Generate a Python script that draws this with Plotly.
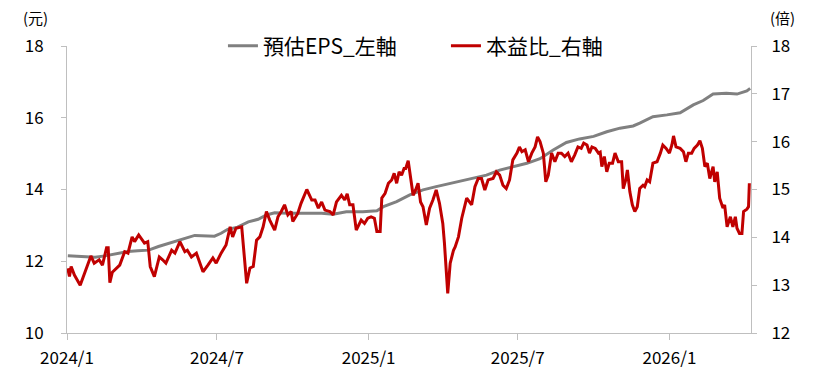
import pandas as pd
import plotly.graph_objects as go

# ---- data ----
start_date = "2024-01-01"

# 本益比 (right axis): days since 2024-01-01 and value
pe_day = [1, 3, 5, 9, 16, 21, 29, 33, 39, 43, 48, 50, 52, 55, 64, 70, 74, 79, 82, 87,
          94, 98, 101, 106, 112, 116, 120, 127, 131, 137, 143, 146, 151, 157, 165, 171, 177, 181, 187, 193,
          198, 201, 205, 212, 216, 218, 222, 226, 230, 234, 238, 242, 246, 252, 256, 260, 264, 268, 272, 274,
          280, 284, 291, 297, 301, 305, 309, 313, 319, 323, 327, 333, 337, 340, 343, 347, 351, 357, 361, 365,
          369, 373, 376, 380, 382, 386, 390, 394, 397, 400, 403, 406, 409, 411, 414, 417, 420, 423, 426, 429,
          432, 436, 440, 444, 448, 452, 456, 458, 461, 462, 465, 469, 471, 475, 479, 485, 491, 495, 499, 503,
          507, 511, 517, 521, 525, 529, 533, 537, 541, 546, 549, 552, 556, 560, 564, 568, 571, 574, 578, 581,
          584, 588, 592, 596, 600, 604, 608, 612, 616, 620, 624, 627, 631, 634, 637, 641, 645, 647, 649, 652,
          655, 658, 662, 665, 669, 673, 675, 678, 680, 683, 686, 689, 692, 695, 699, 701, 704, 707, 711, 716,
          720, 723, 727, 731, 734, 736, 739, 744, 748, 751, 754, 758, 761, 765, 768, 771, 774, 777, 780, 784,
          786, 789, 792, 796, 798, 801, 805, 808, 811, 813, 816, 819, 821, 825, 827, 828]
pe_val = [13.35, 13.18, 13.39, 13.21, 13.00, 13.25, 13.61, 13.46, 13.53, 13.42, 13.78, 13.78, 13.05, 13.27, 13.42, 13.70, 13.67, 14.01, 13.91, 14.05,
          13.88, 13.91, 13.39, 13.18, 13.59, 13.53, 13.46, 13.73, 13.67, 13.91, 13.70, 13.73, 13.59, 13.67, 13.28, 13.42, 13.57, 13.46, 13.67, 13.84,
          14.22, 14.01, 14.19, 14.22, 13.53, 13.04, 13.36, 13.39, 13.94, 14.01, 14.22, 14.54, 14.36, 14.15, 14.43, 14.54, 14.68, 14.47, 14.54, 14.33,
          14.50, 14.71, 15.00, 14.78, 14.78, 14.61, 14.74, 14.57, 14.54, 14.47, 14.74, 14.88, 14.78, 14.91, 14.68, 14.68, 14.15, 14.36, 14.29, 14.40,
          14.43, 14.40, 14.12, 14.12, 14.82, 14.92, 15.13, 15.20, 15.34, 15.13, 15.37, 15.30, 15.44, 15.44, 15.60, 15.20, 14.88, 14.99, 15.13, 14.74,
          14.64, 14.26, 14.61, 14.78, 14.99, 14.71, 14.29, 13.88, 13.04, 12.83, 13.46, 13.73, 13.80, 14.01, 14.40, 14.82, 14.68, 15.06, 15.23, 15.23,
          14.99, 15.20, 15.23, 15.37, 15.30, 15.09, 15.02, 15.20, 15.62, 15.76, 15.89, 15.79, 15.83, 15.58, 15.76, 15.89, 16.10, 16.00, 15.76, 15.16,
          15.30, 15.76, 15.58, 15.76, 15.76, 15.69, 15.76, 15.58, 15.72, 15.89, 15.86, 15.97, 15.93, 15.76, 15.89, 15.86, 15.76, 15.78, 15.48, 15.69,
          15.37, 15.55, 15.55, 15.76, 15.58, 15.58, 15.02, 15.20, 15.41, 14.95, 14.68, 14.54, 14.64, 15.02, 15.09, 15.06, 15.20, 15.16, 15.55, 15.58,
          15.76, 15.93, 15.86, 15.76, 15.93, 16.12, 15.89, 15.86, 15.79, 15.58, 15.76, 15.76, 15.86, 15.93, 16.02, 15.86, 15.48, 15.55, 15.23, 15.48,
          15.16, 15.37, 14.82, 14.61, 14.68, 14.22, 14.43, 14.22, 14.43, 14.19, 14.08, 14.08, 14.54, 14.59, 14.64, 15.13]

# 預估EPS (left axis): days since 2024-01-01 and value
eps_day = [1, 18, 34, 46, 62, 74, 86, 99, 111, 123, 135, 147, 155, 179, 187, 195, 207, 220, 232, 242,
           252, 268, 284, 292, 309, 323, 339, 359, 376, 384, 400, 416, 432, 448, 465, 477, 493, 509, 525, 541,
           558, 574, 590, 606, 622, 639, 655, 671, 687, 695, 711, 728, 744, 760, 772, 784, 800, 813, 825, 829]
eps_val = [12.15, 12.13, 12.11, 12.15, 12.22, 12.27, 12.29, 12.31, 12.41, 12.50, 12.59, 12.67, 12.72, 12.70, 12.78, 12.89, 12.95, 13.10, 13.17, 13.29,
           13.35, 13.34, 13.34, 13.35, 13.34, 13.31, 13.38, 13.38, 13.41, 13.52, 13.66, 13.85, 13.99, 14.08, 14.17, 14.24, 14.31, 14.40, 14.54, 14.64,
           14.73, 14.86, 15.10, 15.31, 15.41, 15.48, 15.61, 15.71, 15.77, 15.85, 16.03, 16.08, 16.14, 16.36, 16.48, 16.66, 16.68, 16.66, 16.75, 16.82]

x_tickvals = ["2024-01-01", "2024-07-01", "2025-01-01", "2025-07-01", "2026-01-01"]
x_ticktext = ["2024/1", "2024/7", "2025/1", "2025/7", "2026/1"]
x_range = ["2024-01-01", "2026-04-10"]

base = pd.Timestamp(start_date)
pe_dates = base + pd.to_timedelta(pe_day, unit="D")
eps_dates = base + pd.to_timedelta(eps_day, unit="D")

FONT = "Noto Sans CJK TC"
AXIS_COLOR = "#bfbfbf"

fig = go.Figure()
fig.add_trace(go.Scatter(x=eps_dates, y=eps_val, name="預估EPS_左軸", mode="lines",
                         line=dict(color="#808080", width=3), yaxis="y"))
fig.add_trace(go.Scatter(x=pe_dates, y=pe_val, name="本益比_右軸", mode="lines",
                         line=dict(color="#C00000", width=3), yaxis="y2"))

fig.update_layout(
    width=813, height=376,
    margin=dict(l=59, r=70, t=38, b=51),
    paper_bgcolor="white", plot_bgcolor="white",
    font=dict(family=FONT, size=17, color="#000000"),
    showlegend=True,
    legend=dict(orientation="h", x=0.228, xanchor="left", y=1.0, yanchor="middle",
                font=dict(size=21, family=FONT), bgcolor="rgba(0,0,0,0)",
                entrywidth=178, entrywidthmode="pixels"),
    xaxis=dict(type="date", range=x_range, tickvals=x_tickvals, ticktext=x_ticktext,
               showgrid=False, showline=True, linecolor=AXIS_COLOR, linewidth=1,
               ticks="outside", ticklen=6, tickcolor=AXIS_COLOR, zeroline=False,
               tickfont=dict(size=17), ticklabelstandoff=4, automargin=False),
    yaxis=dict(range=[10, 18], dtick=2, showgrid=False, showline=True, linecolor=AXIS_COLOR,
               ticks="outside", ticklen=5, tickcolor=AXIS_COLOR, zeroline=False,
               tickfont=dict(size=17), ticklabelstandoff=14, automargin=False),
    yaxis2=dict(range=[12, 18], dtick=1, overlaying="y", side="right", showgrid=False,
                showline=True, linecolor=AXIS_COLOR, ticks="outside", ticklen=5,
                tickcolor=AXIS_COLOR, zeroline=False, tickfont=dict(size=17),
                ticklabelstandoff=11, automargin=False),
)

fig.add_annotation(text="(元)", xref="paper", yref="paper", x=-0.046, y=1.10,
                   xanchor="center", yanchor="middle", showarrow=False,
                   font=dict(size=15, family=FONT))
fig.add_annotation(text="(倍)", xref="paper", yref="paper", x=1.046, y=1.10,
                   xanchor="center", yanchor="middle", showarrow=False,
                   font=dict(size=15, family=FONT))

fig.write_html("out.html")
